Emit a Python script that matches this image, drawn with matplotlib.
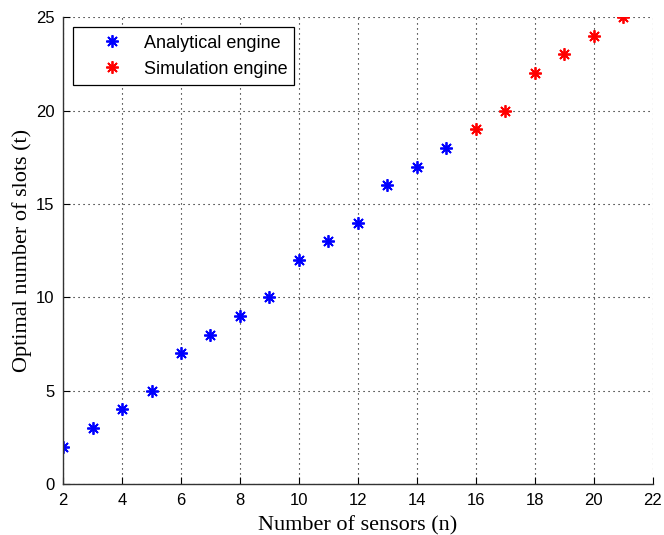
import matplotlib
matplotlib.use("Agg")
import matplotlib.pyplot as plt

# Data
n_analytical = [2, 3, 4, 5, 6, 7, 8, 9, 10, 11, 12, 13, 14, 15]
t_analytical = [2, 3, 4, 5, 7, 8, 9, 10, 12, 13, 14, 16, 17, 18]
n_simulation = [16, 17, 18, 19, 20, 21]
t_simulation = [19, 20, 22, 23, 24, 25]

x_ticks = [2, 4, 6, 8, 10, 12, 14, 16, 18, 20, 22]
y_ticks = [0, 5, 10, 15, 20, 25]

SANS = ["Liberation Sans", "DejaVu Sans"]
SERIF = ["Liberation Serif", "DejaVu Serif"]
ASTERISK = (8, 2, 0)

fig = plt.figure(figsize=(6.64, 5.35), dpi=100)
ax = fig.add_axes([0.095, 0.095, 0.888, 0.873])

ax.plot(n_analytical, t_analytical, linestyle="none", marker=ASTERISK,
        color="blue", markersize=9, markeredgewidth=1.3,
        label="Analytical engine")
ax.plot(n_simulation, t_simulation, linestyle="none", marker=ASTERISK,
        color="red", markersize=9, markeredgewidth=1.3,
        label="Simulation engine")

ax.set_xlim(2, 22)
ax.set_ylim(0, 25)
ax.set_xticks(x_ticks)
ax.set_yticks(y_ticks)
ax.grid(True, color="black", linestyle=(0, (1, 3.5)), linewidth=0.8)
ax.set_axisbelow(True)

for side in ("top", "right"):
    ax.spines[side].set_visible(False)
for side in ("left", "bottom"):
    ax.spines[side].set_linewidth(1.0)
    ax.spines[side].set_color("#333333")

ax.tick_params(direction="in", length=5, width=0.8, labelsize=12, pad=6,
               top=False, right=False)
for lbl in ax.get_xticklabels() + ax.get_yticklabels():
    lbl.set_family(SANS)

ax.set_xlabel("Number of sensors (n)", family=SERIF, fontsize=16, labelpad=6)
ax.set_ylabel("Optimal number of slots (t)", family=SERIF, fontsize=16,
              labelpad=3)

leg = ax.legend(loc="upper left", bbox_to_anchor=(0.017, 0.978),
                prop={"family": SANS, "size": 13}, fancybox=False,
                framealpha=1, edgecolor="black", borderpad=0.4,
                borderaxespad=0, handletextpad=0.0, handlelength=3.5,
                labelspacing=0.5)
leg.get_frame().set_linewidth(0.9)

fig.savefig("out.png", dpi=100)
